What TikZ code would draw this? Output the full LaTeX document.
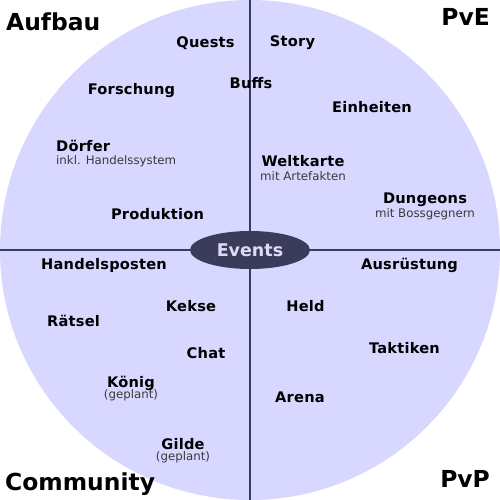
\documentclass[tikz,border=0pt]{standalone}
\usepackage{fontspec}
\setmainfont{DejaVu Sans}
\usepackage{tikz}
\usepackage{xcolor}
\usetikzlibrary{positioning,shapes.geometric}
\newfontfamily\lblfont[LetterSpace=1.5]{DejaVu Sans}
\definecolor{disc}{HTML}{D7D7FF}
\definecolor{hub}{HTML}{3B3B5C}
\definecolor{hubtext}{HTML}{DCDCF5}
\definecolor{subtext}{HTML}{3A3A3A}
\newcommand{\sublbl}[1]{{\normalfont\fontsize{11.8}{13}\selectfont\color{subtext}#1}}
\tikzset{
  topic/.style={font=\lblfont\bfseries\fontsize{14.6}{15.5}\selectfont, text=black,
                inner sep=0pt, align=center},
  corner/.style={font=\bfseries\fontsize{23.4}{26}\selectfont, text=black, inner sep=0pt},
  axis/.style={draw=hub, line width=1.3pt},
  eventhub/.style={ellipse, fill=hub, minimum width=120pt, minimum height=38pt,
                   inner sep=0pt, text=hubtext, font=\bfseries\fontsize{17.5}{19}\selectfont}
}

\begin{document}
\begin{tikzpicture}[x=1pt,y=-1pt]
    \useasboundingbox (0,0) rectangle (500,500);
    \fill[disc] (250,250) circle (250);
    \draw[axis] (250,0) -- (250,500);
    \draw[axis] (0,250) -- (500,250);
    \node[eventhub] (events) at (250,250) {Events};

    % corners
    \node[corner, anchor=west] (aufbau) at (6,22) {Aufbau};
    \node[corner, anchor=east] (pve) at (490,17) {PvE};
    \node[corner, anchor=west] (community) at (5,484) {Community};
    \node[corner, anchor=east] (pvp) at (490,479) {PvP};

    % Aufbau
    \node[topic] (quests) at (205.5,43) {Quests};
    \node[topic] (forschung) at (131.5,91) {Forschung};
    \node[topic, align=left, anchor=west] (doerfer) at (56,153.5)
      {Dörfer\\[-2pt]\sublbl{inkl. Handelssystem}};
    \node[topic] (produktion) at (157.5,214) {Produktion};

    % PvE
    \node[topic] (story) at (292.5,43) {Story};
    \node[topic] (buffs) at (251,83) {Buffs};
    \node[topic] (einheiten) at (372,107) {Einheiten};
    \node[topic] (weltkarte) at (303,168) {Weltkarte\\[-2pt]\sublbl{mit Artefakten}};
    \node[topic] (dungeons) at (425,206.5) {Dungeons\\[-2pt]\sublbl{mit Bossgegnern}};

    % Community
    \node[topic] (handelsposten) at (104,265) {Handelsposten};
    \node[topic] (kekse) at (191,306) {Kekse};
    \node[topic] (raetsel) at (73.5,321) {Rätsel};
    \node[topic] (chat) at (206,353) {Chat};
    \node[topic] (koenig) at (131,388.5) {König\\[-4pt]\sublbl{(geplant)}};
    \node[topic] (gilde) at (183,450.5) {Gilde\\[-4pt]\sublbl{(geplant)}};

    % PvP
    \node[topic] (ausruestung) at (409.5,265) {Ausrüstung};
    \node[topic] (held) at (305.5,306) {Held};
    \node[topic] (taktiken) at (404.5,348) {Taktiken};
    \node[topic] (arena) at (300,397) {Arena};
\end{tikzpicture}
\end{document}
